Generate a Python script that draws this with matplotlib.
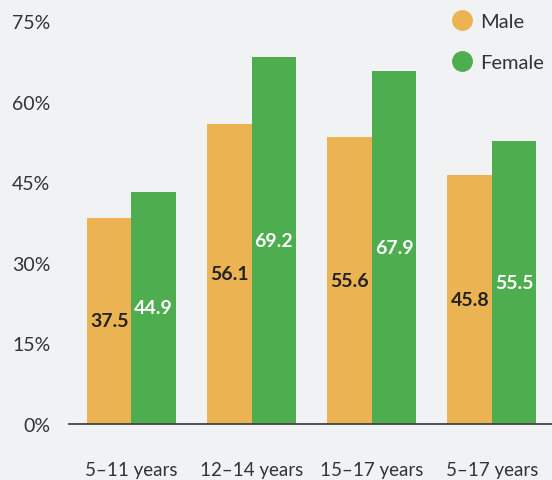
import numpy as np
import matplotlib
matplotlib.use("Agg")
import matplotlib.pyplot as plt
from matplotlib.lines import Line2D

# Data (bar heights, labels as printed)
groups = ["5\u201311 years", "12\u201314 years", "15\u201317 years", "5\u201317 years"]
male_heights = [38.4, 55.9, 53.5, 46.4]
female_heights = [43.2, 68.3, 65.7, 52.7]
male_labels = ["37.5", "56.1", "55.6", "45.8"]
female_labels = ["44.9", "69.2", "67.9", "55.5"]
yticks = [0, 15, 30, 45, 60, 75]

bg = "#f1f2f4"
male_col = "#ebb352"
female_col = "#4ead4f"
text_col = "#333333"

plt.rcParams['font.family'] = ['Lato', 'DejaVu Sans']

fig = plt.figure(figsize=(5.52, 4.81), dpi=100, facecolor=bg)
ax = fig.add_axes([69 / 552, 56 / 481, 483 / 552, 403 / 481])
ax.set_facecolor(bg)

x = np.arange(len(groups))
w = 0.37
bm = ax.bar(x - w / 2, male_heights, w, color=male_col, zorder=2)
bf = ax.bar(x + w / 2, female_heights, w, color=female_col, zorder=2)

for rect, lab in zip(bm, male_labels):
    ax.text(rect.get_x() + rect.get_width() / 2, rect.get_height() / 2, lab,
            ha="center", va="center", fontsize=14, fontweight="bold", color="#222222")
for rect, lab in zip(bf, female_labels):
    ax.text(rect.get_x() + rect.get_width() / 2, rect.get_height() / 2, lab,
            ha="center", va="center", fontsize=14, fontweight="bold", color="white")

ax.set_xlim(-0.52, 3.5)
ax.set_ylim(0, 75)
ax.set_yticks(yticks)
ax.set_yticklabels([f"{t}%" for t in yticks])
ax.set_xticks(x)
ax.set_xticklabels(groups)
ax.tick_params(axis="y", length=0, pad=13.5, labelsize=14, labelcolor=text_col)
ax.tick_params(axis="x", length=0, pad=27, labelsize=13.5, labelcolor=text_col)

for s in ["top", "right", "left"]:
    ax.spines[s].set_visible(False)
ax.spines["bottom"].set_color("#444444")
ax.spines["bottom"].set_linewidth(1.3)

handles = [
    Line2D([], [], marker="o", linestyle="", markersize=14, color=male_col),
    Line2D([], [], marker="o", linestyle="", markersize=14, color=female_col),
]
fig.legend(handles, ["Male", "Female"], loc="upper left",
           bbox_to_anchor=(442 / 552, 1 - 6 / 481), frameon=False,
           fontsize=14.5, labelcolor=text_col, handletextpad=0.3,
           labelspacing=1.2, handlelength=1.2, borderaxespad=0)

fig.savefig("out.png", dpi=100, facecolor=bg)
